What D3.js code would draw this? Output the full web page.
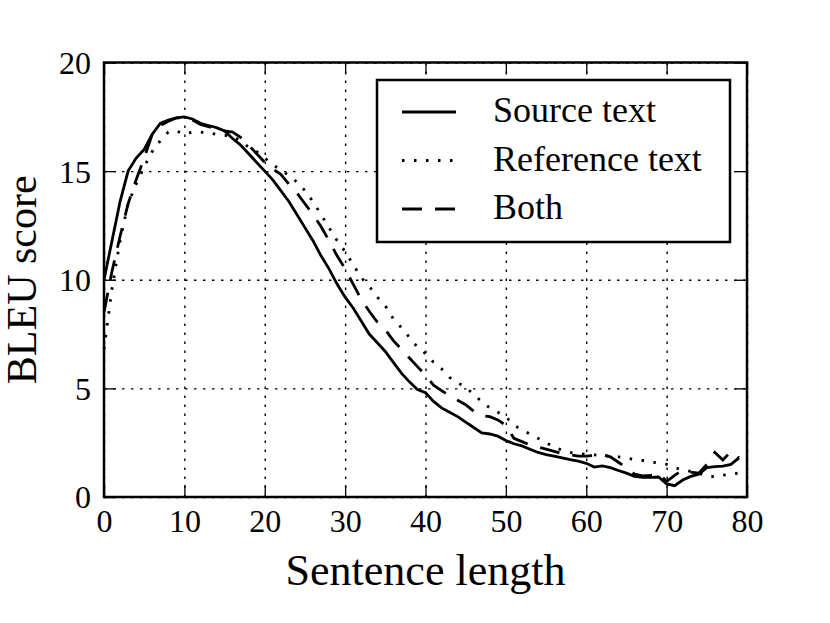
<!DOCTYPE html>
<html lang="en">
<head>
	<title>BLEU score by sentence length</title>
	<script src="https://cdn.jsdelivr.net/npm/d3@7"></script>
	<style>
		body{ margin: 0; background: #fff; }
		text{ font-family: "Liberation Serif", "DejaVu Serif", serif; fill: #000; }
		.axis path{ display: none; }
		.axis line{ stroke: #000; stroke-width: 1.3; }
		.grid line{ stroke: #000; stroke-width: 1.4; stroke-dasharray: 2.5,6.5; }
		.grid path{ display: none; }
	</style>
</head>
<body>
	<script>
		// sentence lengths on the x axis
		var lengths = d3.range(0, 80);

		// BLEU scores, one per sentence length
		var sourceText = [10.0, 11.8, 13.6, 15.0, 15.6, 16.0, 16.7, 17.2, 17.35, 17.45,
			17.5, 17.4, 17.2, 17.1, 17.0, 16.85, 16.5, 16.2, 15.8, 15.4,
			15.0, 14.6, 14.1, 13.6, 13.0, 12.4, 11.8, 11.1, 10.5, 9.8,
			9.2, 8.7, 8.1, 7.5, 7.1, 6.7, 6.2, 5.7, 5.3, 4.95,
			4.8, 4.4, 4.1, 3.9, 3.7, 3.45, 3.2, 2.95, 2.9, 2.8,
			2.6, 2.45, 2.35, 2.2, 2.05, 1.95, 1.88, 1.8, 1.72, 1.65,
			1.55, 1.38, 1.43, 1.35, 1.22, 1.1, 0.95, 0.9, 0.9, 0.92,
			0.6, 0.52, 0.78, 0.95, 1.05, 1.35, 1.4, 1.42, 1.5, 1.8];

		var referenceText = [6.8, 9.6, 11.8, 13.5, 14.4, 15.2, 15.9, 16.4, 16.8, 16.85,
			16.7, 16.8, 16.8, 16.75, 16.7, 16.65, 16.6, 16.4, 16.1, 15.9,
			15.6, 15.3, 15.05, 14.8, 14.5, 14.1, 13.6, 13.0, 12.4, 11.8,
			11.3, 10.7, 10.1, 9.7, 9.2, 8.8, 8.2, 7.8, 7.35, 6.9,
			6.6, 6.2, 5.9, 5.5, 5.25, 5.08, 4.7, 4.4, 4.1, 3.9,
			3.7, 3.3, 3.1, 2.9, 2.7, 2.5, 2.3, 2.15, 2.05, 2.0,
			1.97, 1.94, 1.9, 1.88, 1.85, 1.8, 1.72, 1.68, 1.62, 1.56,
			1.5, 1.35, 1.25, 1.18, 1.1, 0.95, 0.94, 1.0, 1.06, 1.1];

		var bothTexts = [8.5, 10.4, 12.0, 13.5, 14.6, 15.6, 16.7, 17.1, 17.3, 17.45,
			17.45, 17.35, 17.15, 17.05, 16.95, 16.85, 16.8, 16.55, 16.2, 15.8,
			15.4, 15.1, 14.85, 14.4, 14.0, 13.5, 13.0, 12.45, 11.8, 11.1,
			10.5, 9.8, 9.1, 8.55, 8.05, 7.7, 7.2, 6.8, 6.4, 6.0,
			5.6, 5.15, 4.9, 4.65, 4.45, 4.25, 3.95, 3.75, 3.7, 3.55,
			3.3, 2.7, 2.55, 2.4, 2.3, 2.2, 2.1, 2.0, 1.95, 1.88,
			1.88, 1.92, 1.95, 1.85, 1.6, 1.35, 1.05, 0.97, 1.0, 1.08,
			0.72, 1.0, 1.25, 1.15, 1.1, 1.5, 2.05, 1.7, 2.1, 1.8];

		var seriesNames = ["Source text", "Reference text", "Both"];
		var xTicks = [0, 10, 20, 30, 40, 50, 60, 70, 80];
		var yTicks = [0, 5, 10, 15, 20];

		function drawChart(){
			var w = 830;
			var h = 623;
			var padLeft = 104, padRight = 747, padTop = 62.5, padBottom = 497;

			var svg = d3.select("body")
				.append("svg")
				.attr("width", w)
				.attr("height", h)
				;

			var xScale = d3.scaleLinear()
				.domain([0, 80])
				.range([padLeft, padRight])
				;

			var yScale = d3.scaleLinear()
				.domain([0, 20])
				.range([padBottom, padTop])
				;

			// dotted grid
			svg.append("g")
				.attr("class", "grid")
				.attr("transform", "translate(0," + padBottom + ")")
				.call(d3.axisBottom(xScale).tickValues(xTicks).tickSize(-(padBottom - padTop)).tickFormat(""))
				;
			svg.append("g")
				.attr("class", "grid")
				.attr("transform", "translate(" + padLeft + ",0)")
				.call(d3.axisLeft(yScale).tickValues(yTicks).tickSize(-(padRight - padLeft)).tickFormat(""))
				;

			// ticks pointing inwards on all four sides
			var tick = 12;
			var xAxis = svg.append("g")
				.attr("class", "axis")
				.attr("transform", "translate(0," + padBottom + ")")
				.call(d3.axisBottom(xScale).tickValues(xTicks).tickSize(-tick).tickPadding(12))
				;
			xAxis.selectAll("text").attr("font-size", 32).attr("dy", "0.72em");

			svg.append("g")
				.attr("class", "axis")
				.attr("transform", "translate(0," + padTop + ")")
				.call(d3.axisTop(xScale).tickValues(xTicks).tickSize(-tick).tickFormat(""))
				;

			var yAxis = svg.append("g")
				.attr("class", "axis")
				.attr("transform", "translate(" + padLeft + ",0)")
				.call(d3.axisLeft(yScale).tickValues(yTicks).tickSize(-tick).tickPadding(13))
				;
			yAxis.selectAll("text").attr("font-size", 32).attr("dy", "0.34em");

			svg.append("g")
				.attr("class", "axis")
				.attr("transform", "translate(" + padRight + ",0)")
				.call(d3.axisRight(yScale).tickValues(yTicks).tickSize(-tick).tickFormat(""))
				;

			// the lines
			var styles = [
				{ values: sourceText, dash: null },
				{ values: referenceText, dash: "2.5,9.5" },
				{ values: bothTexts, dash: "20,13" }
			];

			styles.forEach(function(s){
				var line = d3.line()
					.x(function(d, i){ return xScale(lengths[i]); })
					.y(function(d){ return yScale(d); })
					;
				svg.append("path")
					.datum(s.values)
					.attr("d", line)
					.attr("fill", "none")
					.attr("stroke", "#000")
					.attr("stroke-width", 2.8)
					.attr("stroke-dasharray", s.dash)
					;
			});

			// frame
			svg.append("rect")
				.attr("x", padLeft)
				.attr("y", padTop)
				.attr("width", padRight - padLeft)
				.attr("height", padBottom - padTop)
				.attr("fill", "none")
				.attr("stroke", "#000")
				.attr("stroke-width", 2.5)
				;

			// legend
			var legend = svg.append("g");
			legend.append("rect")
				.attr("x", 377)
				.attr("y", 80)
				.attr("width", 353)
				.attr("height", 162)
				.attr("fill", "#fff")
				.attr("stroke", "#000")
				.attr("stroke-width", 2.5)
				;
			seriesNames.forEach(function(name, i){
				var yy = 112 + i * 48.5;
				legend.append("line")
					.attr("x1", 402)
					.attr("x2", 456)
					.attr("y1", yy)
					.attr("y2", yy)
					.attr("stroke", "#000")
					.attr("stroke-width", 2.8)
					.attr("stroke-dasharray", styles[i].dash)
					;
				legend.append("text")
					.attr("x", 493)
					.attr("y", yy + 10)
					.attr("font-size", 36)
					.text(name)
					;
			});

			// axis labels
			svg.append("text")
				.attr("text-anchor", "middle")
				.attr("transform", "translate(" + ((padLeft + padRight) / 2) + ", 585)")
				.attr("font-size", 44)
				.text("Sentence length")
				;

			svg.append("text")
				.attr("text-anchor", "middle")
				.attr("transform", "translate(36, " + ((padTop + padBottom) / 2) + ") rotate(-90)")
				.attr("font-size", 42)
				.text("BLEU score")
				;
		}

		drawChart();
	</script>
</body>
</html>
